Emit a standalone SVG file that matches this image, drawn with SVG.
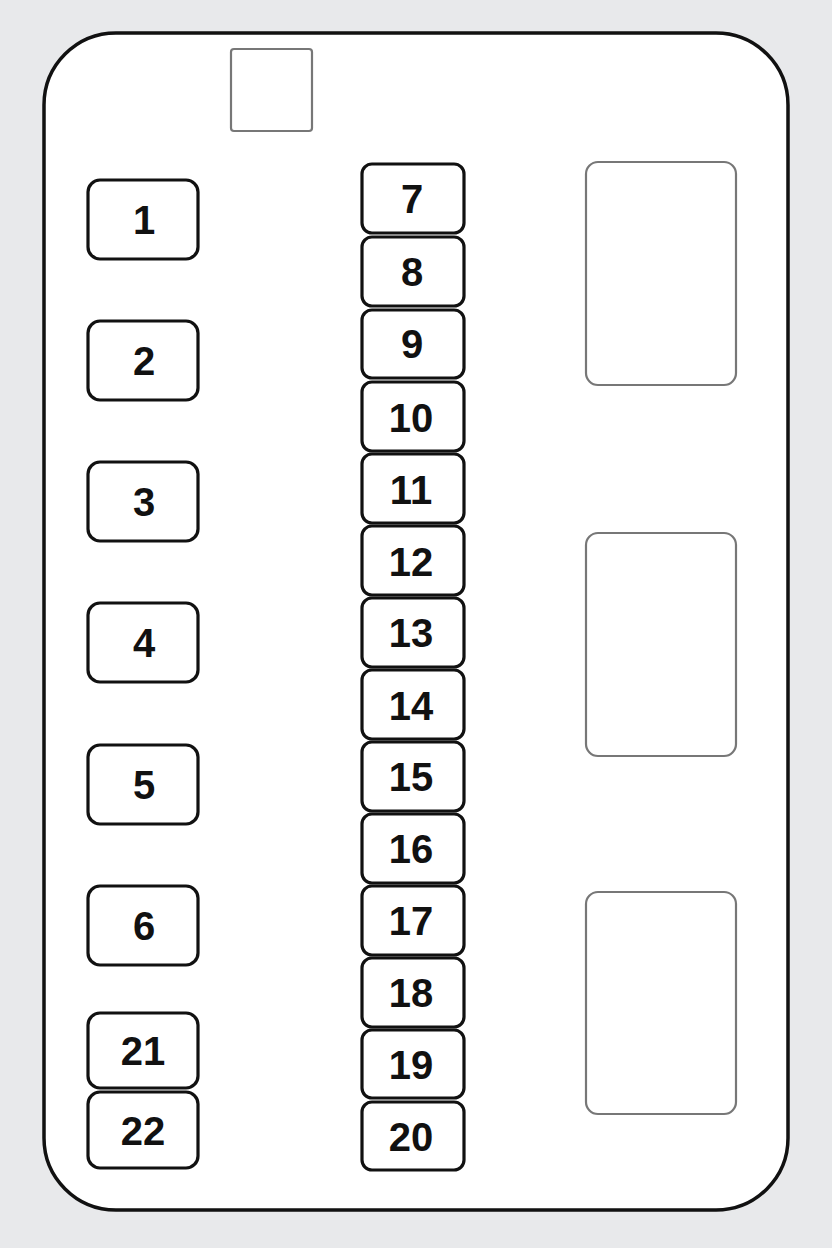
<svg xmlns="http://www.w3.org/2000/svg" width="832" height="1248" viewBox="0 0 832 1248">
<style>
.fuse{fill:#fff;stroke:#111;stroke-width:3.2}
.relay{fill:#fff;stroke:#777;stroke-width:2.2}
.lbl{font-family:"Liberation Sans",Arial,sans-serif;font-weight:bold;font-size:40px;fill:#111;text-anchor:middle}
</style>
<rect x="0" y="0" width="832" height="1248" fill="#e8e9eb"/>
<rect id="panel" x="44" y="33" width="744" height="1177" rx="72" ry="72" fill="#fff" stroke="#111" stroke-width="3.5"/>
<rect id="tab" x="231" y="49" width="81" height="82" rx="3" class="relay"/>
<g id="relay1"><rect x="586" y="162" width="150" height="223" rx="12" class="relay"/></g>
<g id="relay2"><rect x="586" y="533" width="150" height="223" rx="12" class="relay"/></g>
<g id="relay3"><rect x="586" y="892" width="150" height="222" rx="12" class="relay"/></g>
<g id="f1"><rect x="88" y="180" width="110" height="79" rx="12" class="fuse"/><text x="144" y="234" class="lbl">1</text></g>
<g id="f2"><rect x="88" y="321" width="110" height="79" rx="12" class="fuse"/><text x="144" y="375" class="lbl">2</text></g>
<g id="f3"><rect x="88" y="462" width="110" height="79" rx="12" class="fuse"/><text x="144" y="516" class="lbl">3</text></g>
<g id="f4"><rect x="88" y="603" width="110" height="79" rx="12" class="fuse"/><text x="144" y="657" class="lbl">4</text></g>
<g id="f5"><rect x="88" y="745" width="110" height="79" rx="12" class="fuse"/><text x="144" y="799" class="lbl">5</text></g>
<g id="f6"><rect x="88" y="886" width="110" height="79" rx="12" class="fuse"/><text x="144" y="940" class="lbl">6</text></g>
<g id="f21"><rect x="88" y="1013" width="110" height="75" rx="12" class="fuse"/><text x="143" y="1065" class="lbl">21</text></g>
<g id="f22"><rect x="88" y="1092" width="110" height="76" rx="12" class="fuse"/><text x="143" y="1145" class="lbl">22</text></g>
<g id="f7"><rect x="362" y="164" width="102" height="69" rx="10" class="fuse"/><text x="412" y="213" class="lbl">7</text></g>
<g id="f8"><rect x="362" y="237" width="102" height="69" rx="10" class="fuse"/><text x="412" y="286" class="lbl">8</text></g>
<g id="f9"><rect x="362" y="310" width="102" height="68" rx="10" class="fuse"/><text x="412" y="358" class="lbl">9</text></g>
<g id="f10"><rect x="362" y="382" width="102" height="69" rx="10" class="fuse"/><text x="411" y="432" class="lbl">10</text></g>
<g id="f11"><rect x="362" y="454" width="102" height="69" rx="10" class="fuse"/><text x="411" y="504" class="lbl">11</text></g>
<g id="f12"><rect x="362" y="526" width="102" height="69" rx="10" class="fuse"/><text x="411" y="576" class="lbl">12</text></g>
<g id="f13"><rect x="362" y="598" width="102" height="69" rx="10" class="fuse"/><text x="411" y="647" class="lbl">13</text></g>
<g id="f14"><rect x="362" y="670" width="102" height="69" rx="10" class="fuse"/><text x="411" y="720" class="lbl">14</text></g>
<g id="f15"><rect x="362" y="742" width="102" height="69" rx="10" class="fuse"/><text x="411" y="791" class="lbl">15</text></g>
<g id="f16"><rect x="362" y="814" width="102" height="69" rx="10" class="fuse"/><text x="411" y="863" class="lbl">16</text></g>
<g id="f17"><rect x="362" y="886" width="102" height="69" rx="10" class="fuse"/><text x="411" y="935" class="lbl">17</text></g>
<g id="f18"><rect x="362" y="958" width="102" height="69" rx="10" class="fuse"/><text x="411" y="1007" class="lbl">18</text></g>
<g id="f19"><rect x="362" y="1030" width="102" height="68" rx="10" class="fuse"/><text x="411" y="1079" class="lbl">19</text></g>
<g id="f20"><rect x="362" y="1102" width="102" height="68" rx="10" class="fuse"/><text x="411" y="1151" class="lbl">20</text></g>
<g id="connectors"></g>
</svg>
